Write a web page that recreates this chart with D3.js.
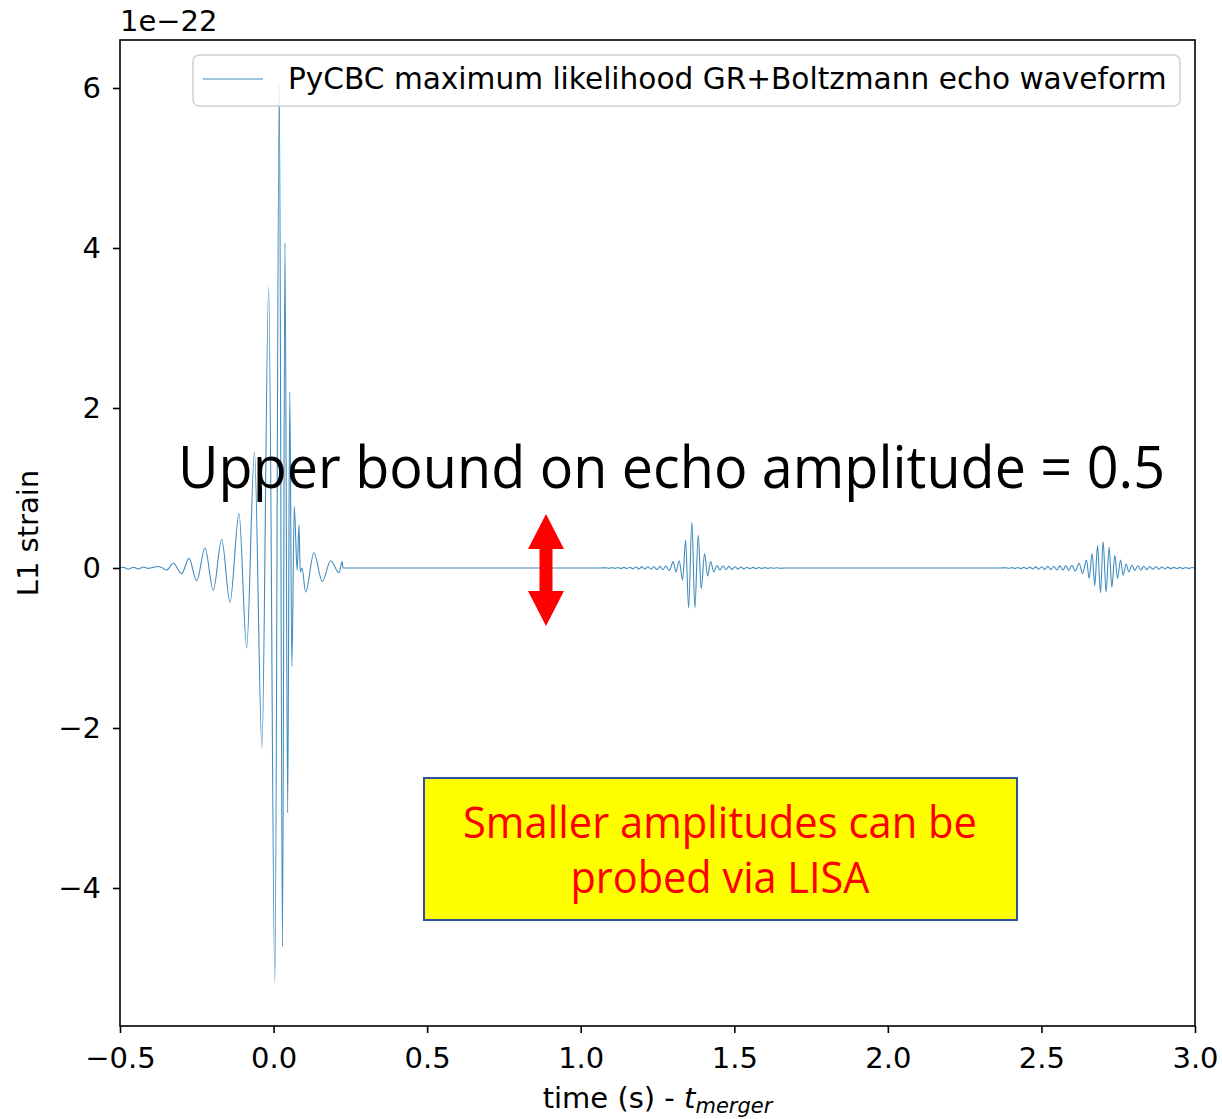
<!DOCTYPE html>
<html>
<head>
<meta charset="utf-8">
<script src="https://cdn.jsdelivr.net/npm/d3@7"></script>
<style>
  body { margin: 0; background: #fff; }
  svg { display: block; }
  text { font-family: "DejaVu Sans", sans-serif; }
</style>
</head>
<body>
<div id="chart"></div>
<script>
// strain values are in units of 1e-22, time in seconds relative to merger
var mergerTime = [-0.5, -0.4893, -0.473, -0.4567, -0.4404, -0.4242, -0.4079, -0.3916, -0.3753, -0.3643,
    -0.348, -0.3265, -0.2992, -0.2754, -0.2503, -0.2233, -0.1963, -0.1689, -0.1419, -0.1126,
    -0.0876, -0.0622, -0.0378, -0.016, 0.0042, 0.0186, 0.029, 0.0371, 0.0459, 0.0527,
    0.0596, 0.0674, 0.0768, 0.0827, 0.0869, 0.0924, 0.1045, 0.1315, 0.1585, 0.1859,
    0.2129, 0.2233, 0.2259];
var mergerStrain = [0, 0.01, -0.015, 0.01, -0.012, 0.012, -0.005, 0.008, 0.018, 0.005,
    -0.025, 0.06, -0.07, 0.12, -0.16, 0.25, -0.28, 0.36, -0.43, 0.68,
    -1.0, 1.45, -2.25, 3.51, -5.19, 6.05, -4.73, 4.06, -3.06, 2.2,
    -1.23, 0.77, -0.03, 0.54, -0.05, 0.0, -0.3, 0.19, -0.17, 0.09,
    -0.06, 0.08, 0.0];

var echo1Time = [1.0625, 1.082, 1.0918, 1.1016, 1.1113, 1.1211, 1.1309, 1.1406, 1.1504, 1.1602,
    1.1699, 1.1797, 1.1895, 1.1992, 1.209, 1.2188, 1.2285, 1.2383, 1.248, 1.2578,
    1.2676, 1.2773, 1.2887, 1.3011, 1.3099, 1.3206, 1.3317, 1.3415, 1.3512, 1.362,
    1.3717, 1.3825, 1.3923, 1.4033, 1.4131, 1.4229, 1.4336, 1.4434, 1.4531, 1.4629,
    1.4727, 1.4824, 1.4922, 1.502, 1.5117, 1.5215, 1.5313, 1.541, 1.5508, 1.5605,
    1.5703, 1.5801, 1.5898, 1.5996, 1.6094, 1.6191, 1.6289, 1.6387, 1.6484, 1.6647];
var echo1Strain = [0, 0.004, -0.004, 0.005, -0.005, 0.006, -0.006, 0.008, -0.008, 0.01,
    -0.01, 0.012, -0.012, 0.014, -0.014, 0.016, -0.016, 0.018, -0.02, 0.02,
    -0.02, 0.025, -0.03, 0.08, -0.05, 0.09, -0.15, 0.35, -0.5, 0.57,
    -0.5, 0.41, -0.26, 0.18, -0.1, 0.08, -0.05, 0.03, -0.025, 0.025,
    -0.02, 0.02, -0.018, 0.016, -0.014, 0.012, -0.012, 0.01, -0.01, 0.008,
    -0.008, 0.007, -0.006, 0.005, -0.005, 0.004, -0.004, 0.003, -0.003, 0];

var echo2Time = [2.3646, 2.3841, 2.3939, 2.4036, 2.4134, 2.4232, 2.4329, 2.4427, 2.4525, 2.4622,
    2.472, 2.4818, 2.4915, 2.5013, 2.5111, 2.5208, 2.5306, 2.5404, 2.5501, 2.5599,
    2.5697, 2.5794, 2.5892, 2.599, 2.6103, 2.6227, 2.6338, 2.6468, 2.6553, 2.665,
    2.6738, 2.6826, 2.6924, 2.7008, 2.7106, 2.7204, 2.7292, 2.7389, 2.7477, 2.7575,
    2.7659, 2.7757, 2.7845, 2.7943, 2.804, 2.8138, 2.8236, 2.8333, 2.8431, 2.8529,
    2.8626, 2.8724, 2.8822, 2.8919, 2.9017, 2.9115, 2.9212, 2.931, 2.9408, 2.9505,
    2.9603, 2.9701, 2.9798, 2.9896, 3.0];
var echo2Strain = [0, 0.004, -0.004, 0.005, -0.006, 0.007, -0.008, 0.009, -0.01, 0.012,
    -0.012, 0.014, -0.015, 0.016, -0.018, 0.02, -0.02, 0.022, -0.024, 0.026,
    -0.028, 0.03, -0.03, 0.035, -0.04, 0.06, -0.07, 0.1, -0.13, 0.18,
    -0.22, 0.28, -0.31, 0.33, -0.3, 0.26, -0.24, 0.16, -0.13, 0.1,
    -0.09, 0.05, -0.05, 0.035, -0.03, 0.028, -0.025, 0.022, -0.02, 0.018,
    -0.016, 0.015, -0.014, 0.013, -0.012, 0.011, -0.01, 0.009, -0.009, 0.008,
    -0.008, 0.007, -0.007, 0.006, 0];

var xTicks = [-0.5, 0.0, 0.5, 1.0, 1.5, 2.0, 2.5, 3.0];
var yTicks = [-4, -2, 0, 2, 4, 6];
var legendLabel = "PyCBC maximum likelihood GR+Boltzmann echo waveform";
var boundText = "Upper bound on echo amplitude = 0.5";
var lisaText = ["Smaller amplitudes can be", "probed via LISA"];

var width = 1222,
    height = 1119,
    margin = {top: 40, right: 27, bottom: 93, left: 120};

var plotW = width - margin.left - margin.right,
    plotH = height - margin.top - margin.bottom;

var xScale = d3.scaleLinear().domain([-0.5, 3.0]).range([0, plotW]);
var yScale = d3.scaleLinear().domain([-5.725, 6.6]).range([plotH, 0]);

function toPoints(ts, hs) {
    return ts.map(function(t, i) { return {t: t, h: hs[i]}; });
}
var waveform = toPoints(mergerTime, mergerStrain)
    .concat(toPoints(echo1Time, echo1Strain))
    .concat(toPoints(echo2Time, echo2Strain));

var svg = d3.select("#chart").append("svg")
    .attr("width", width)
    .attr("height", height);

var g = svg.append("g")
    .attr("transform", "translate(" + margin.left + "," + margin.top + ")");

g.append("clipPath").attr("id", "plotclip")
    .append("rect").attr("width", plotW).attr("height", plotH);

var line = d3.line()
    .x(function(d) { return xScale(d.t); })
    .y(function(d) { return yScale(d.h); })
    .curve(d3.curveMonotoneX);

g.append("path")
    .datum(waveform)
    .attr("clip-path", "url(#plotclip)")
    .attr("fill", "none")
    .attr("stroke", "#1f77b4")
    .attr("stroke-opacity", 0.85)
    .attr("stroke-width", 1.1)
    .attr("d", line);

// axes
var xAxis = d3.axisBottom(xScale).tickValues(xTicks).tickFormat(d3.format(".1f"))
    .tickSize(7).tickPadding(14);
var yAxis = d3.axisLeft(yScale).tickValues(yTicks).tickFormat(d3.format("d"))
    .tickSize(7).tickPadding(12);

var gx = g.append("g").attr("transform", "translate(0," + plotH + ")").call(xAxis);
var gy = g.append("g").call(yAxis);

[gx, gy].forEach(function(a) {
    a.select(".domain").remove();
    a.selectAll(".tick line").attr("stroke", "#000").attr("stroke-width", 1.6);
    a.selectAll(".tick text").attr("fill", "#000").style("font-size", "29px")
        .style("font-family", "'DejaVu Sans', sans-serif");
});

g.append("rect")
    .attr("width", plotW)
    .attr("height", plotH)
    .attr("fill", "none")
    .attr("stroke", "#000")
    .attr("stroke-width", 1.6);

// offset text and axis labels
svg.append("text")
    .attr("x", margin.left)
    .attr("y", 31)
    .style("font-size", "29px")
    .text("1e\u221222");

var xl = svg.append("text")
    .attr("x", margin.left + plotW / 2)
    .attr("y", 1108)
    .attr("text-anchor", "middle")
    .style("font-size", "29px");
xl.append("tspan").text("time (s) - ");
xl.append("tspan").style("font-style", "italic").text("t");
xl.append("tspan").style("font-style", "italic").style("font-size", "21px")
    .attr("dy", 5).text("merger");

svg.append("text")
    .attr("transform", "translate(38," + (margin.top + plotH / 2) + ") rotate(-90)")
    .attr("text-anchor", "middle")
    .style("font-size", "29px")
    .text("L1 strain");

// legend
var legend = g.append("g").attr("transform", "translate(73,15)");
legend.append("rect")
    .attr("width", 987)
    .attr("height", 51)
    .attr("rx", 6)
    .attr("fill", "#fff")
    .attr("fill-opacity", 0.8)
    .attr("stroke", "#d0d0d0")
    .attr("stroke-width", 1.5);
legend.append("line")
    .attr("x1", 10).attr("x2", 70)
    .attr("y1", 24).attr("y2", 24)
    .attr("stroke", "#1f77b4")
    .attr("stroke-opacity", 0.85)
    .attr("stroke-width", 1.1);
legend.append("text")
    .attr("x", 95)
    .attr("y", 34)
    .style("font-size", "29.6px")
    .text(legendLabel);

// annotations
svg.append("text")
    .attr("x", 178)
    .attr("y", 488)
    .attr("textLength", 987)
    .attr("lengthAdjust", "spacingAndGlyphs")
    .style("font-family", "'Open Sans', sans-serif")
    .style("font-size", "58px")
    .attr("fill", "#000")
    .text(boundText);

var ax = 546;
svg.append("path")
    .attr("d", "M" + ax + ",514 L" + (ax + 18) + ",549 L" + (ax + 6.5) + ",549 L" + (ax + 6.5) + ",591 L" +
        (ax + 18) + ",591 L" + ax + ",626 L" + (ax - 18) + ",591 L" + (ax - 6.5) + ",591 L" +
        (ax - 6.5) + ",549 L" + (ax - 18) + ",549 Z")
    .attr("fill", "#ff0000");

svg.append("rect")
    .attr("x", 424)
    .attr("y", 778)
    .attr("width", 593)
    .attr("height", 142)
    .attr("fill", "#ffff00")
    .attr("stroke", "#2f4f9f")
    .attr("stroke-width", 2);

svg.selectAll(".lisa")
    .data(lisaText)
    .enter()
    .append("text")
    .attr("class", "lisa")
    .attr("x", 720)
    .attr("y", function(d, i) { return 838 + i * 55; })
    .attr("text-anchor", "middle")
    .attr("textLength", function(d, i) { return i === 0 ? 514 : 299; })
    .attr("lengthAdjust", "spacingAndGlyphs")
    .style("font-family", "'Open Sans', sans-serif")
    .style("font-size", "43px")
    .attr("fill", "#ff0000")
    .text(function(d) { return d; });
</script>
</body>
</html>
